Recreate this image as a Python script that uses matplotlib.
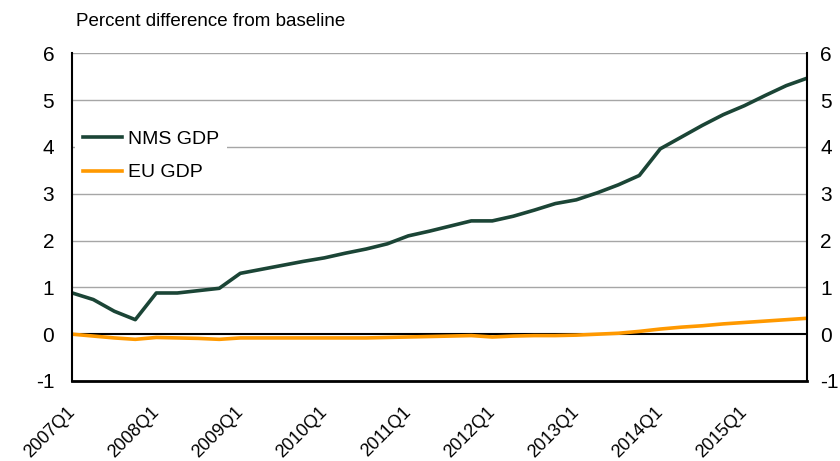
import matplotlib
matplotlib.use("Agg")
import matplotlib.pyplot as plt
from matplotlib import font_manager
from matplotlib.transforms import ScaledTranslation

fams = {f.name for f in font_manager.fontManager.ttflist}
fam = "Liberation Sans Narrow" if "Liberation Sans Narrow" in fams else "Liberation Sans"
plt.rcParams['font.family'] = [fam, 'DejaVu Sans']

years = list(range(2007, 2016))
quarters = [f"{y}Q{q}" for y in years for q in range(1, 5)]
tick_labels = [f"{y}Q1" for y in years]

nms_gdp = [0.88, 0.74, 0.49, 0.31, 0.88, 0.88, 0.93, 0.98,
           1.30, 1.385, 1.47, 1.555, 1.63, 1.73, 1.82, 1.93,
           2.10, 2.20, 2.31, 2.42, 2.42, 2.52, 2.65, 2.79,
           2.87, 3.02, 3.19, 3.39, 3.96, 4.21, 4.46, 4.69,
           4.88, 5.10, 5.31, 5.47]
eu_gdp = [0.0, -0.04, -0.08, -0.11, -0.07, -0.08, -0.09, -0.11,
          -0.08, -0.08, -0.08, -0.08, -0.08, -0.08, -0.08, -0.07,
          -0.06, -0.05, -0.04, -0.03, -0.06, -0.04, -0.03, -0.03,
          -0.02, 0.0, 0.02, 0.06, 0.11, 0.15, 0.18, 0.22,
          0.25, 0.28, 0.31, 0.34]

fig = plt.figure(figsize=(8.4, 4.61), dpi=100)
ax = fig.add_axes([72.3/840, 1-381/461, (807.3-72.3)/840, (381-53.3)/461])

x = list(range(len(quarters)))
for v in range(1, 7):
    ax.axhline(v, color='#a6a6a6', lw=1.0, zorder=1)
ax.axhline(0, color='black', lw=1.5, zorder=2)

l1, = ax.plot(x, nms_gdp, color='#1B4536', lw=2.6, label='NMS GDP', zorder=3, solid_joinstyle='round')
l2, = ax.plot(x, eu_gdp, color='#FF9900', lw=2.6, label='EU GDP', zorder=3, solid_joinstyle='round')

ax.set_xlim(0, len(quarters) - 1)
ax.set_ylim(-1, 6)
ax.set_yticks(range(-1, 7))
ax.set_yticklabels([str(v) for v in range(-1, 7)])
ax.tick_params(axis='y', length=0, labelsize=15, pad=13, labelleft=True, labelright=True)
roff = ScaledTranslation(-5/100, 0, fig.dpi_scale_trans)
for t in ax.yaxis.get_major_ticks():
    t.label2.set_transform(t.label2.get_transform() + roff)

tick_pos = [quarters.index(t) for t in tick_labels]
ax.set_xticks(tick_pos)
ax.set_xticklabels(tick_labels, rotation=45, ha='right', va='top', rotation_mode='anchor', fontsize=13)
ax.tick_params(axis='x', length=0, pad=16)
off = ScaledTranslation(-6/100, 0, fig.dpi_scale_trans)
for lab in ax.get_xticklabels():
    lab.set_transform(lab.get_transform() + off)

ax.spines['top'].set_visible(False)
ax.spines['left'].set_linewidth(1.5)
ax.spines['right'].set_linewidth(1.5)
ax.spines['bottom'].set_linewidth(2.0)
for s in ax.spines.values():
    s.set_zorder(4)

leg = ax.legend(handles=[l1, l2], loc='upper left', bbox_to_anchor=(0.004, 0.788),
                frameon=True, fontsize=14, handlelength=2.0, handletextpad=0.3,
                labelspacing=0.8, borderaxespad=0.0, borderpad=0.4)
leg.get_frame().set_edgecolor('none')
leg.get_frame().set_facecolor('white')
leg.get_frame().set_alpha(1.0)
leg.get_frame().set_boxstyle('square', pad=0)
leg.set_zorder(2.2)

fig.text(76/840, 1-22/461, "Percent difference from baseline", fontsize=13.5, ha='left', va='center')

fig.savefig("out.png", dpi=100)
